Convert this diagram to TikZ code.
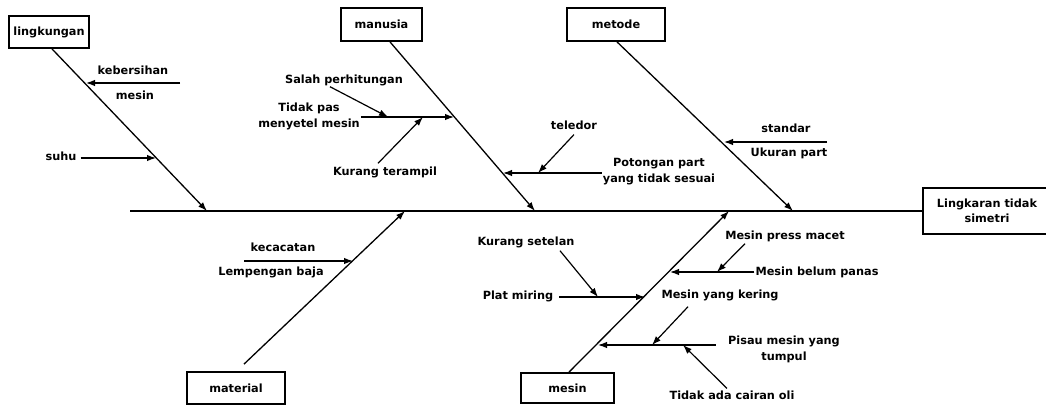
\documentclass[tikz,border=0pt]{standalone}
\usepackage{fontspec}
\setmainfont{DejaVu Sans}
\usetikzlibrary{arrows.meta,calc}

\begin{document}
\begin{tikzpicture}[->,>={Latex[length=9pt,width=6.5pt]},x=1pt,y=-1pt,
    cat/.style={draw,-,line width=1.8pt,minimum height=32pt,inner sep=2pt,
      align=center,font=\bfseries\fontsize{11.3}{15}\selectfont},
    lbl/.style={inner sep=1pt,align=center,font=\bfseries\fontsize{11.3}{16}\selectfont},
    bone/.style={line width=1.3pt},
    twig/.style={line width=1.2pt}]
  \useasboundingbox (0,0) rectangle (1046,407);
  \clip (0,0) rectangle (1046,407);

  % kategori
  \node[cat,minimum width=80pt] (ling) at (49,32) {lingkungan};
  \node[cat,minimum width=81pt,minimum height=33pt] (man) at (381.5,24.5) {manusia};
  \node[cat,minimum width=98pt,minimum height=33pt] (met) at (616,24.5) {metode};
  \node[cat,minimum width=98pt] (mat) at (236,388) {material};
  \node[cat,minimum width=93pt,minimum height=30pt] (mes) at (567.5,388) {mesin};
  \node[cat,minimum width=128pt,minimum height=46pt] (akibat) at (987,211) {Lingkaran tidak\\simetri};

  % tulang utama
  \coordinate (ekor) at (130,211);
  \draw[-,line width=1.5pt] (ekor) -- (akibat);
  \coordinate (jl) at (207,211);
  \coordinate (jm) at (535,211);
  \coordinate (jt) at (793,211);
  \coordinate (ja) at (405,211);
  \coordinate (js) at (729,211);
  \draw[bone] ([xshift=3pt]ling.south) -- (jl);
  \draw[bone] ([xshift=8.5pt]man.south) -- (jm);
  \draw[bone] ([xshift=1pt]met.south) -- (jt);
  \draw[bone] ([xshift=8pt,yshift=7pt]mat.north) -- (ja);
  \draw[bone] ([xshift=1.5pt]mes.north) -- (js);

  % lingkungan
  \node[lbl] (keb) at (133,70) {kebersihan};
  \node[lbl] (kebm) at (135,95) {mesin};
  \coordinate (l1) at (180,83);
  \coordinate (l1e) at (86,83);
  \draw[twig] (l1) -- (l1e);
  \node[lbl] (suhu) at (61,156) {suhu};
  \coordinate (l2e) at (156,158);
  \draw[twig] ([xshift=3pt,yshift=-2pt]suhu.east) -- (l2e);

  % manusia
  \node[lbl] (tpas) at (309,116.5) {Tidak pas\\menyetel mesin};
  \coordinate (m1e) at (454,117);
  \draw[twig] ([yshift=-0.5pt]tpas.east) -- (m1e);
  \node[lbl] (salah) at (344,80) {Salah perhitungan};
  \coordinate (m1a) at (388,117);
  \draw[twig] ([xshift=-14pt]salah.south) -- (m1a);
  \node[lbl] (kter) at (385,172) {Kurang terampil};
  \coordinate (m1b) at (423,117);
  \draw[twig] ([xshift=-7pt,yshift=2pt]kter.north) -- (m1b);
  \node[lbl] (pot) at (659,171.5) {Potongan part\\yang tidak sesuai};
  \coordinate (m2e) at (503,173);
  \draw[twig] ([yshift=-1.5pt]pot.west) -- (m2e);
  \node[lbl] (tel) at (574,125) {teledor};
  \coordinate (m2a) at (538,173);
  \draw[twig] ([yshift=-4pt]tel.south) -- (m2a);

  % metode
  \node[lbl] (std) at (786,128) {standar};
  \node[lbl] (ukur) at (789,153) {Ukuran part};
  \coordinate (t1) at (827,142);
  \coordinate (t1e) at (724,142);
  \draw[twig] (t1) -- (t1e);

  % material
  \node[lbl] (kec) at (283,247) {kecacatan};
  \node[lbl] (lemp) at (271,272) {Lempengan baja};
  \coordinate (a1) at (244,261);
  \coordinate (a1e) at (353,261);
  \draw[twig] (a1) -- (a1e);

  % mesin
  \node[lbl] (plat) at (518,296) {Plat miring};
  \coordinate (s1e) at (645,297);
  \draw[twig] ([xshift=5pt,yshift=-1pt]plat.east) -- (s1e);
  \node[lbl] (kset) at (526,242) {Kurang setelan};
  \coordinate (s1a) at (598,297);
  \draw[twig] ([xshift=34pt,yshift=-2pt]kset.south) -- (s1a);
  \node[lbl] (mbp) at (817,272) {Mesin belum panas};
  \coordinate (s2e) at (670,272);
  \draw[twig] (mbp.west) -- (s2e);
  \node[lbl] (mpm) at (785,236) {Mesin press macet};
  \coordinate (s2a) at (717,272);
  \draw[twig] ([xshift=-40pt,yshift=-1pt]mpm.south) -- (s2a);
  \node[lbl] (pis) at (784,349.5) {Pisau mesin yang\\tumpul};
  \coordinate (s3e) at (598,345);
  \draw[twig] ([xshift=-11pt,yshift=4.5pt]pis.west) -- (s3e);
  \node[lbl] (myk) at (720,295) {Mesin yang kering};
  \coordinate (s3a) at (652,345);
  \draw[twig] ([xshift=-32pt,yshift=-5pt]myk.south) -- (s3a);
  \node[lbl] (oli) at (732,395) {Tidak ada cairan oli};
  \coordinate (s3b) at (683,345);
  \draw[twig] ([xshift=-5pt,yshift=1pt]oli.north) -- (s3b);
\end{tikzpicture}
\end{document}
